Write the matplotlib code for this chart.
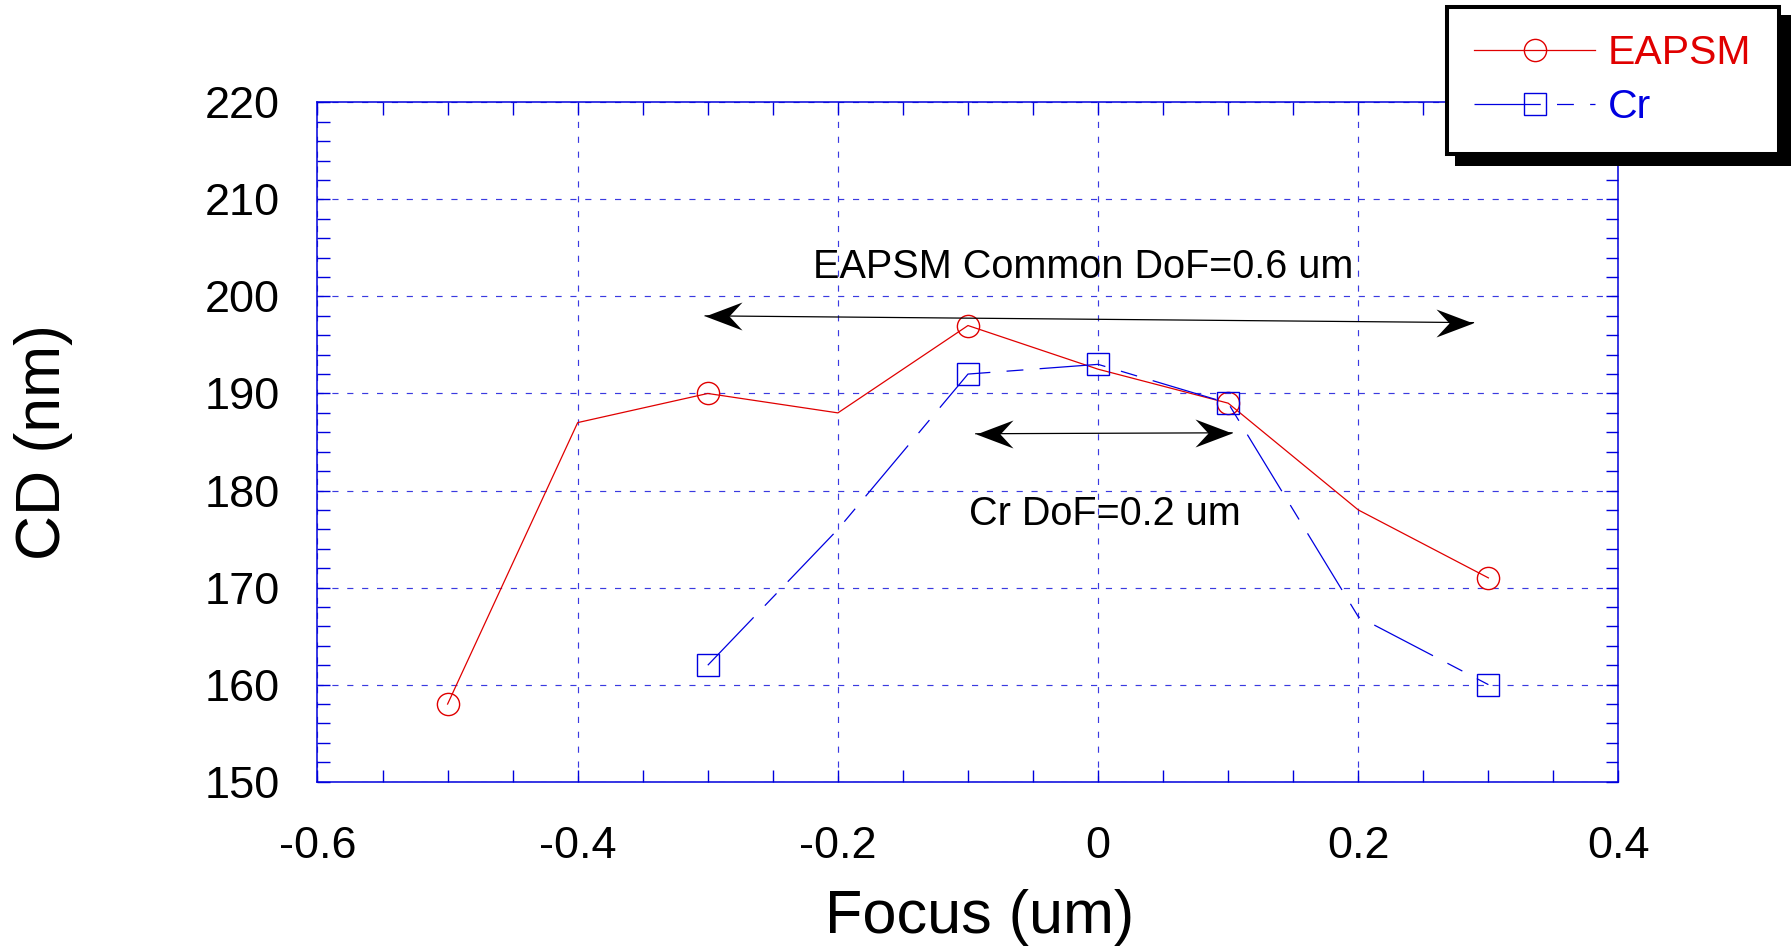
import matplotlib.pyplot as plt
from matplotlib.path import Path
from matplotlib.patches import Rectangle
from matplotlib.ticker import MultipleLocator

plt.rcParams['font.family'] = ['Liberation Sans', 'DejaVu Sans']

# dados
focus_eapsm = [-0.5, -0.4, -0.3, -0.2, -0.1, 0.0, 0.1, 0.2, 0.3]
cd_eapsm = [158, 187, 190, 188, 197, 192.5, 189, 178, 171]
marks_eapsm = [0, 2, 4, 6, 8]

focus_cr = [-0.3, -0.2, -0.1, 0.0, 0.1, 0.2, 0.3]
cd_cr = [162, 176, 192, 193, 189, 167, 160]
marks_cr = [0, 2, 3, 4, 6]

x_ticks = [-0.6, -0.4, -0.2, 0.0, 0.2, 0.4]
x_labels = ['-0.6', '-0.4', '-0.2', '0', '0.2', '0.4']
y_ticks = [150, 160, 170, 180, 190, 200, 210, 220]

# setas de profundidade de foco (inicio, fim)
dof_eapsm = [(-0.302, 198.0), (0.2885, 197.3)]
dof_cr = [(-0.094, 185.85), (0.103, 185.95)]

red = '#e00000'
blue = '#0000e0'
axis_blue = '#0000dd'

fig = plt.figure(figsize=(17.91, 9.47), dpi=100)
ax = fig.add_axes([0.17727, 0.17455, 0.72641, 0.71742])

# curvas
ax.plot(focus_eapsm, cd_eapsm, color=red, lw=0.9, marker='o', markevery=marks_eapsm,
        ms=16, mfc='none', mec=red, mew=1.0, label='EAPSM', zorder=3)
ax.plot(focus_cr, cd_cr, color=blue, lw=0.9, ls=(0, (53, 13, 13.5, 13)), marker='s',
        markevery=marks_cr, ms=16, mfc='none', mec=blue, mew=1.0, label='Cr', zorder=3)

# eixos
ax.set_xlim(-0.6, 0.4)
ax.set_ylim(150, 220)
ax.set_xticks(x_ticks)
ax.set_xticklabels(x_labels)
ax.set_yticks(y_ticks)
ax.xaxis.set_minor_locator(MultipleLocator(0.05))
ax.yaxis.set_minor_locator(MultipleLocator(2))
ax.tick_params(which='both', direction='in', top=True, right=True, length=9,
               width=1.0, color=axis_blue, labelsize=32.5)
ax.tick_params(axis='x', which='major', pad=32.0)
ax.tick_params(axis='y', which='major', pad=27.0)
for s in ax.spines.values():
    s.set_color(axis_blue)
    s.set_linewidth(1.1)
ax.grid(True, which='major', color='#3a3ae0', lw=0.85, ls=(0, (5.2, 7.4)))

ax.set_xlabel('Focus (um)', fontsize=44, va='baseline')
ax.xaxis.set_label_coords(0.509, -0.222)
ax.set_ylabel('CD (nm)', fontsize=45, va='baseline')
ax.yaxis.set_label_coords(-0.1983, 0.5)

# textos
ax.text(-0.0116, 201.87, 'EAPSM Common DoF=0.6 um', fontsize=28.5, ha='center', va='baseline')
ax.text(0.005, 176.45, 'Cr DoF=0.2 um', fontsize=28.5, ha='center', va='baseline')

# setas com ponta farpada
head_r = Path([(0, 0), (-37, 14), (-24, 0), (-37, -14), (0, 0)], closed=True)
head_l = Path([(0, 0), (37, 14), (24, 0), (37, -14), (0, 0)], closed=True)
for (x0, y0), (x1, y1) in [dof_eapsm, dof_cr]:
    ax.plot([x0, x1], [y0, y1], color='black', lw=0.9, zorder=4)
    ax.plot([x0], [y0], marker=head_l, ms=53.3, color='black', mew=0, ls='none', zorder=4)
    ax.plot([x1], [y1], marker=head_r, ms=53.3, color='black', mew=0, ls='none', zorder=4)

# legenda com sombra preta
leg = fig.legend(loc='upper left', bbox_to_anchor=(1447 / 1791, 1 - 7 / 947), borderaxespad=0,
                 fontsize=29.5, handlelength=2.95, handletextpad=0.3, labelspacing=0.39,
                 borderpad=0.67, fancybox=False, framealpha=1, edgecolor='black',
                 numpoints=1, labelcolor='linecolor')
leg.get_frame().set_linewidth(2.9)

fig.canvas.draw()
bb = leg.get_window_extent()
inv = fig.transFigure.inverted()
p0 = inv.transform((bb.x0 - 2 + 10, bb.y0 - 2 - 10))
p1 = inv.transform((bb.x1 + 2 + 10, bb.y1 + 2 - 10))
shadow = Rectangle(p0, p1[0] - p0[0], p1[1] - p0[1], transform=fig.transFigure,
                   facecolor='black', edgecolor='none', zorder=4.5)
fig.add_artist(shadow)

fig.savefig('out.png', dpi=100)
